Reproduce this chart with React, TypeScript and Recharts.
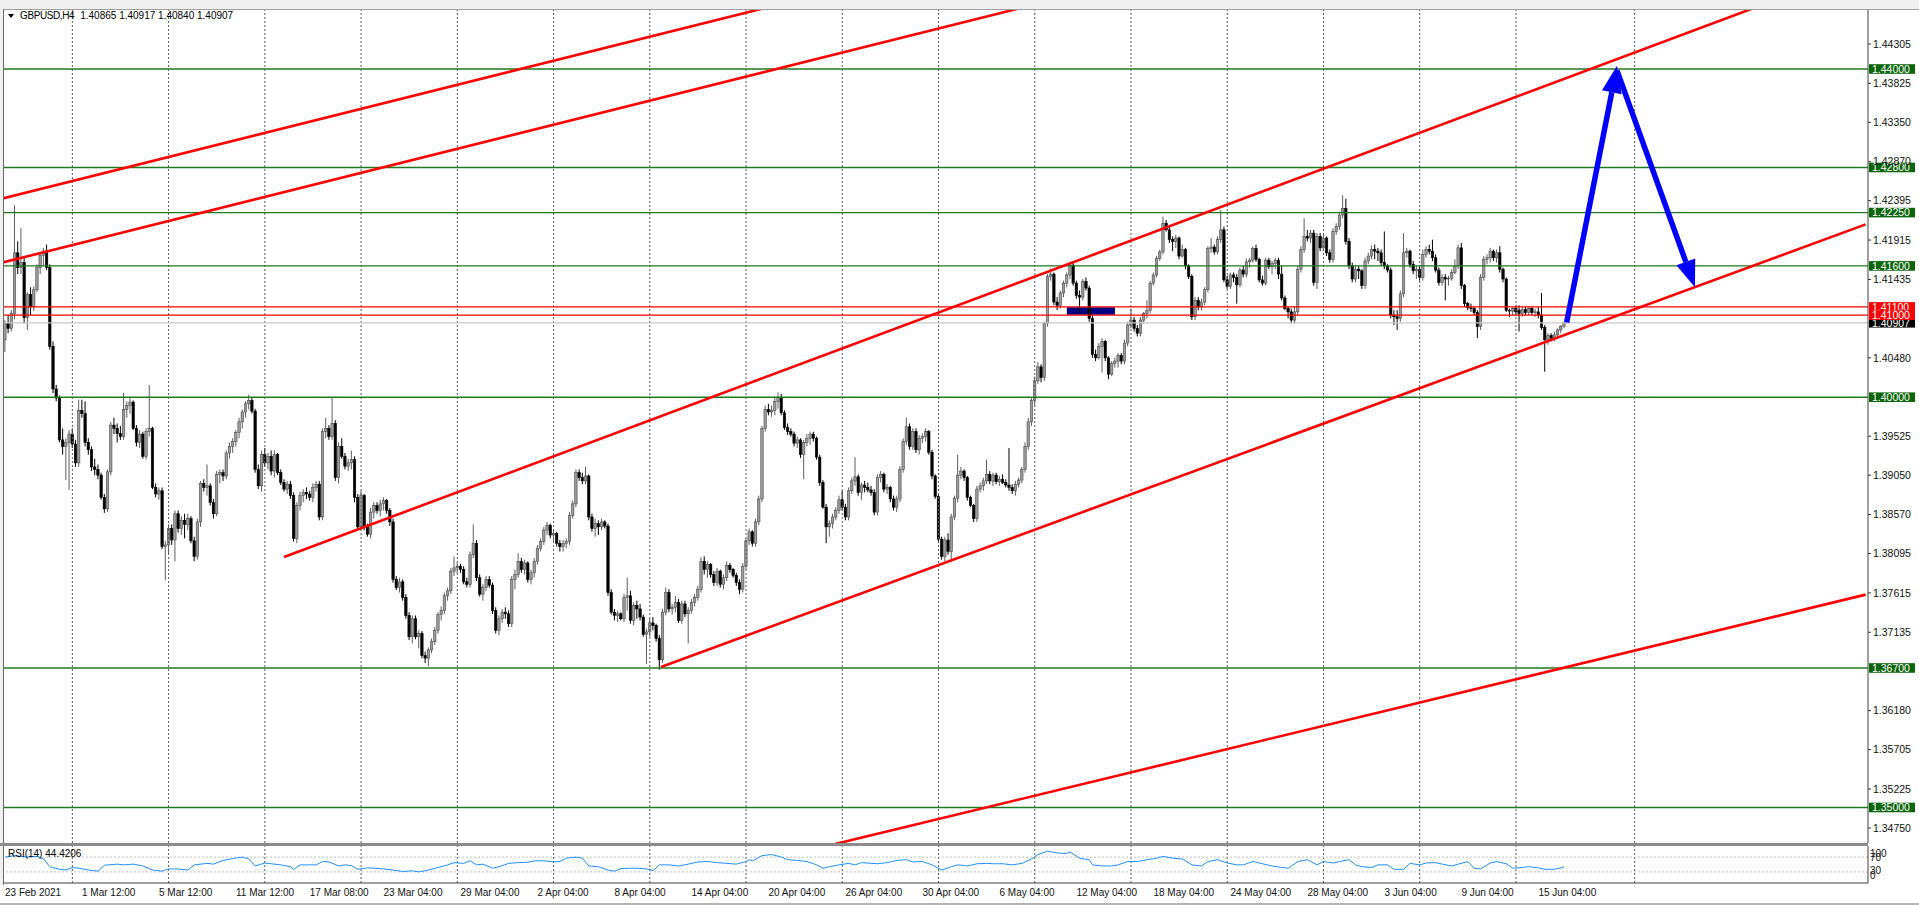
import React from 'react';
import { ComposedChart, Bar, Line, XAxis, YAxis, ReferenceLine, ReferenceArea } from 'recharts';

const FONT = '"Liberation Sans", Arial, sans-serif';

// GBPUSD H4 bars, pips above 1.3000: [open, high, low, close]
const ohlcPips: number[][] = [
  [1070,1094,1055,1090],[1090,1100,1078,1084],[1084,1106,1080,1102],[1102,1234,1095,1176],[1176,1190,1150,1158],
  [1158,1206,1150,1164],[1164,1170,1090,1097],[1097,1128,1082,1125],[1125,1134,1100,1110],[1110,1135,1105,1131],
  [1131,1162,1128,1158],[1158,1176,1150,1173],[1173,1182,1160,1178],[1178,1186,1155,1158],[1158,1162,1058,1062],
  [1062,1068,1005,1010],[1010,1015,995,999],[999,1002,945,948],[948,962,930,940],[940,950,899,945],
  [945,960,887,955],[955,962,938,943],[943,948,915,920],[920,997,915,984],[984,997,975,980],
  [980,995,940,945],[945,950,930,936],[936,940,910,915],[915,925,905,912],[912,918,900,905],
  [905,908,875,878],[878,882,859,864],[864,912,860,909],[909,970,905,966],[966,975,955,962],
  [962,968,945,956],[956,965,948,952],[952,1005,948,985],[985,995,975,990],[990,1000,980,994],
  [994,996,960,962],[962,966,940,945],[945,960,938,955],[955,958,925,928],[928,962,924,958],
  [958,1015,952,962],[962,964,888,890],[890,895,878,882],[882,890,875,886],[886,890,815,818],
  [818,825,777,820],[820,845,810,840],[840,845,820,826],[826,862,800,858],[858,862,835,840],
  [840,855,832,850],[850,858,828,845],[845,858,838,852],[852,855,822,825],[825,830,800,806],
  [806,852,802,848],[848,898,842,895],[895,900,885,890],[890,918,880,892],[892,895,868,872],
  [872,876,852,858],[858,910,855,906],[906,912,895,908],[908,912,898,904],[904,935,900,932],
  [932,945,925,940],[940,950,932,946],[946,960,940,957],[957,975,950,970],[970,985,962,982],
  [982,995,975,992],[992,1003,985,996],[996,1000,980,983],[983,986,908,912],[912,918,888,892],
  [892,935,885,930],[930,938,915,920],[920,932,912,928],[928,935,905,910],[910,935,902,930],
  [930,932,905,908],[908,912,893,896],[896,900,885,888],[888,898,882,894],[894,898,876,880],
  [880,884,824,828],[828,872,822,868],[868,885,862,880],[880,888,872,884],[884,890,876,882],
  [882,886,874,878],[878,895,872,890],[890,898,885,894],[894,898,850,854],[854,962,850,958],
  [958,975,950,962],[962,966,948,952],[952,999,948,968],[968,972,898,902],[902,945,895,940],
  [940,950,925,928],[928,932,912,916],[916,925,910,920],[920,935,912,924],[924,928,872,878],
  [878,882,838,842],[842,886,838,880],[880,882,838,842],[842,846,830,833],[833,865,828,860],
  [860,872,852,868],[868,872,858,862],[862,875,855,870],[870,878,862,874],[874,876,858,862],
  [862,865,843,848],[848,852,774,778],[778,782,765,768],[768,780,762,775],[775,778,752,756],
  [756,760,730,734],[734,738,704,708],[708,734,700,730],[730,734,705,708],[708,716,694,712],
  [712,715,682,685],[685,690,676,682],[682,695,672,692],[692,706,688,702],[702,720,698,716],
  [716,738,712,735],[735,745,728,740],[740,762,736,758],[758,768,752,764],[764,792,760,788],
  [788,806,782,792],[792,798,785,794],[794,797,786,790],[790,794,772,775],[775,780,768,772],
  [772,812,768,808],[808,845,804,822],[822,826,776,780],[780,784,757,760],[760,772,752,768],
  [768,782,764,778],[778,782,768,771],[771,774,736,740],[740,744,712,716],[716,734,710,730],
  [730,742,725,738],[738,744,730,736],[736,740,720,724],[724,782,720,778],[778,790,766,784],
  [784,810,780,800],[800,804,786,790],[790,802,784,798],[798,800,774,778],[778,790,772,786],
  [786,804,780,800],[800,820,796,816],[816,828,812,824],[824,842,820,838],[838,848,832,844],
  [844,846,828,832],[832,838,824,834],[834,836,818,822],[822,826,812,818],[818,826,812,822],
  [822,828,816,824],[824,860,820,856],[856,874,852,870],[870,912,866,908],[908,912,898,902],
  [902,908,894,898],[898,915,894,904],[904,906,850,854],[854,858,836,840],[840,852,830,846],
  [846,850,832,842],[842,852,838,848],[848,850,840,843],[843,846,758,762],[762,766,735,738],
  [738,742,728,734],[734,740,726,736],[736,738,728,730],[730,760,726,756],[756,780,740,758],
  [758,764,724,728],[728,750,722,746],[746,752,730,742],[742,748,728,732],[732,735,708,711],
  [711,718,675,714],[714,730,708,725],[725,732,716,722],[722,724,702,706],[706,710,668,680],
  [680,742,676,738],[738,768,734,762],[762,766,738,742],[742,748,735,744],[744,758,738,750],
  [750,754,725,728],[728,752,724,748],[748,752,732,736],[736,744,700,740],[740,754,736,750],
  [750,760,745,756],[756,770,752,766],[766,805,762,800],[800,806,784,790],[790,800,780,796],
  [796,798,780,784],[784,788,770,774],[774,792,770,788],[788,790,768,772],[772,784,766,780],
  [780,800,776,795],[795,798,786,790],[790,792,780,783],[783,786,770,774],[774,778,760,766],
  [766,798,762,794],[794,828,790,825],[825,840,820,836],[836,838,818,822],[822,852,818,848],
  [848,880,844,876],[876,965,872,962],[962,990,958,985],[985,992,978,982],[982,990,976,984],
  [984,1000,978,995],[995,1006,986,1000],[1000,1004,978,981],[981,984,960,963],[963,968,954,958],
  [958,962,952,955],[955,958,940,944],[944,952,938,948],[948,950,926,930],[930,948,900,945],
  [945,955,940,950],[950,958,942,955],[955,958,946,950],[950,952,924,927],[927,930,892,896],
  [896,899,864,866],[866,870,822,842],[842,850,830,846],[846,858,840,854],[854,866,850,862],
  [862,880,858,875],[875,886,862,866],[866,870,850,854],[854,890,850,886],[886,902,882,898],
  [898,927,892,903],[903,906,880,884],[884,896,875,893],[893,898,884,890],[890,896,884,887],
  [887,892,880,884],[884,888,856,860],[860,906,856,902],[902,910,896,906],[906,908,884,888],
  [888,894,882,890],[890,892,872,876],[876,880,862,866],[866,880,860,876],[876,916,872,912],
  [912,950,908,946],[946,975,942,964],[964,968,936,940],[940,962,936,958],[958,962,932,936],
  [936,954,930,950],[950,956,944,952],[952,962,946,958],[958,960,930,933],[933,936,900,904],
  [904,906,876,879],[879,882,824,827],[827,830,802,806],[806,830,800,826],[826,834,808,812],
  [812,858,799,854],[854,880,850,877],[877,930,872,905],[905,915,900,910],[910,912,898,902],
  [902,904,874,878],[878,880,866,868],[868,870,848,852],[852,892,848,888],[888,896,884,892],
  [892,902,886,898],[898,924,894,906],[906,910,894,898],[898,908,892,905],[905,908,894,897],
  [897,904,892,900],[900,906,894,896],[896,900,890,893],[893,938,886,890],[890,894,882,886],
  [886,898,880,894],[894,902,890,899],
  [899,915,895,912],[912,945,908,940],[940,975,936,970],[970,1000,965,996],[996,1025,990,1020],
  [1020,1043,1016,1037],[1037,1040,1018,1024],[1024,1092,1020,1090],[1090,1150,1086,1147],[1147,1157,1142,1150],
  [1150,1152,1112,1116],[1116,1122,1106,1112],[1112,1130,1108,1127],[1127,1142,1122,1139],[1139,1152,1134,1149],
  [1149,1165,1144,1161],[1161,1165,1136,1139],[1139,1142,1120,1124],[1124,1130,1102,1122],[1122,1144,1118,1141],
  [1141,1146,1130,1133],[1133,1136,1092,1096],[1096,1100,1048,1052],[1052,1058,1044,1048],[1048,1066,1046,1062],
  [1062,1072,1030,1068],[1068,1070,1044,1048],[1048,1050,1022,1028],[1028,1044,1026,1041],[1041,1048,1036,1044],
  [1044,1054,1036,1051],[1051,1054,1040,1044],[1044,1070,1040,1066],[1066,1092,1062,1088],[1088,1108,1084,1094],
  [1094,1098,1080,1084],[1084,1088,1074,1078],[1078,1098,1074,1094],[1094,1104,1090,1102],[1102,1118,1096,1106],
  [1106,1142,1102,1139],[1139,1152,1136,1149],[1149,1172,1146,1169],[1169,1180,1166,1177],[1177,1220,1174,1212],
  [1212,1216,1202,1204],[1204,1208,1188,1192],[1192,1196,1178,1190],[1190,1198,1182,1194],[1194,1196,1168,1172],
  [1172,1186,1170,1180],[1180,1182,1156,1160],[1160,1162,1144,1147],[1147,1150,1094,1098],[1098,1122,1094,1118],
  [1118,1122,1106,1110],[1110,1120,1106,1116],[1116,1134,1112,1131],[1131,1184,1128,1181],[1181,1194,1176,1183],
  [1183,1186,1174,1177],[1177,1196,1174,1192],[1192,1228,1188,1204],[1204,1208,1140,1143],[1143,1148,1132,1135],
  [1135,1152,1132,1149],[1149,1152,1140,1146],[1146,1150,1114,1137],[1137,1158,1134,1155],[1155,1160,1146,1150],
  [1150,1169,1146,1165],[1165,1170,1158,1167],[1167,1184,1164,1181],[1181,1186,1165,1168],[1168,1170,1140,1143],
  [1143,1148,1136,1139],[1139,1170,1136,1167],[1167,1170,1156,1159],[1159,1166,1150,1163],[1163,1170,1156,1167],
  [1167,1170,1144,1150],[1150,1160,1118,1121],
  [1121,1124,1106,1108],[1108,1110,1096,1104],[1104,1108,1090,1094],[1094,1110,1090,1104],[1104,1160,1100,1156],
  [1156,1184,1152,1180],[1180,1218,1176,1196],[1196,1204,1190,1194],[1194,1204,1188,1200],[1200,1204,1136,1140],
  [1140,1200,1132,1196],[1196,1200,1178,1182],[1182,1198,1178,1194],[1194,1196,1172,1176],[1176,1180,1164,1168],
  [1168,1206,1164,1202],[1202,1212,1198,1208],[1208,1226,1204,1222],[1222,1246,1218,1230],[1230,1242,1186,1190],
  [1190,1194,1156,1160],[1160,1164,1140,1144],[1144,1160,1140,1156],[1156,1160,1144,1154],[1154,1156,1132,1136],
  [1136,1170,1132,1166],[1166,1176,1162,1172],[1172,1185,1168,1180],[1180,1186,1168,1178],[1178,1182,1166,1176],
  [1176,1180,1160,1164],[1164,1202,1156,1160],[1160,1162,1152,1155],[1155,1158,1096,1100],[1100,1106,1088,1098],
  [1098,1106,1082,1096],[1096,1130,1092,1126],[1126,1200,1122,1176],[1176,1182,1170,1178],[1178,1180,1158,1162],
  [1162,1166,1150,1154],[1154,1160,1144,1156],[1156,1160,1142,1146],[1146,1180,1142,1174],[1174,1184,1170,1180],
  [1180,1186,1174,1178],[1178,1192,1166,1170],[1170,1174,1152,1155],[1155,1158,1136,1140],[1140,1150,1136,1146],
  [1146,1150,1118,1144],[1144,1148,1136,1145],[1145,1156,1142,1152],[1152,1168,1150,1160],[1160,1186,1156,1182],
  [1182,1188,1132,1136],[1136,1138,1110,1114],[1114,1116,1106,1109],[1109,1114,1104,1108],[1108,1110,1100,1103],
  [1103,1106,1072,1086],[1086,1150,1082,1146],[1146,1172,1142,1168],[1168,1174,1162,1170],[1170,1182,1164,1178],
  [1178,1180,1166,1170],[1170,1180,1164,1176],[1176,1184,1152,1156],[1156,1158,1140,1144],[1144,1146,1104,1106],
  [1106,1108,1098,1105],[1105,1110,1100,1108],[1108,1112,1100,1104],[1106,1112,1080,1102],[1102,1110,1098,1107],
  [1107,1110,1100,1103],[1103,1110,1100,1108],[1108,1110,1100,1103],[1103,1108,1098,1104],[1104,1110,1096,1100],
  [1100,1127,1082,1085],[1085,1088,1031,1070],[1070,1078,1064,1075],[1075,1078,1068,1072],[1072,1080,1068,1076],
  [1076,1084,1072,1082],[1082,1088,1078,1086],[1086.5,1091.7,1084,1090.7],
];
const PIP_BASE = 1.3;

const symbolName = 'GBPUSD,H4';
const priceTicks = [1.44305, 1.43825, 1.4335, 1.4287, 1.42395, 1.41915, 1.41435, 1.4048, 1.39525, 1.3905,
  1.3857, 1.38095, 1.37615, 1.37135, 1.3618, 1.35705, 1.35225, 1.3475];
const greenLevels = [1.44, 1.428, 1.4225, 1.416, 1.4, 1.367, 1.35];
const redLevels = [1.411, 1.41];
const lastPrice = 1.40907;

const gridBars = [21, 51, 81, 111, 141, 171, 201, 231, 261, 291, 321, 351, 381, 411, 441, 471, 508];
const timeLabels: [number, string][] = [
  [0, '23 Feb 2021'], [24, '1 Mar 12:00'], [48, '5 Mar 12:00'], [72, '11 Mar 12:00'], [95, '17 Mar 08:00'],
  [118, '23 Mar 04:00'], [142, '29 Mar 04:00'], [166, '2 Apr 04:00'], [190, '8 Apr 04:00'], [214, '14 Apr 04:00'],
  [238, '20 Apr 04:00'], [262, '26 Apr 04:00'], [286, '30 Apr 04:00'], [310, '6 May 04:00'], [334, '12 May 04:00'],
  [358, '18 May 04:00'], [382, '24 May 04:00'], [406, '28 May 04:00'], [430, '3 Jun 04:00'], [454, '9 Jun 04:00'],
  [478, '15 Jun 04:00'],
];

// drawn objects, [bar1, price1, bar2, price2]
const trendLines = [
  [-20, 1.42233, 320, 1.45556],
  [-20, 1.41453, 400, 1.45558],
  [87, 1.38053, 580, 1.45252],
  [204.5, 1.36712, 580, 1.42106],
  [216.6, 1.34156, 580, 1.37594],
];
const forecastArrows = [
  [486.8, 1.4091, 502.5, 1.4404],
  [502.5, 1.4398, 526.8, 1.4134],
];
const zoneBox = [331, 346, 1.41005, 1.41095];

const rsiLabel = 'RSI(14) 44.4206';
const rsiPoints: [number, number][] = [
  [0,70],[3,74],[7,70],[10,72],[12,65],[14,44],[17,37],[19,35],[21,42],[23,40],[26,35],[29,32],[31,48],[35,51],
  [37,49],[40,51],[43,46],[46,35],[49,32],[51,38],[54,38],[57,35],[59,49],[63,53],[65,51],[68,61],[71,66],[74,70],
  [76,65],[78,46],[81,54],[83,52],[86,49],[89,44],[90,37],[92,49],[95,49],[97,49],[99,58],[101,57],[104,46],[106,49],
  [108,47],[110,37],[113,41],[115,40],[118,38],[121,35],[124,31],[127,33],[129,30],[132,35],[135,42],[138,49],
  [140,55],[143,53],[145,60],[147,49],[149,51],[152,40],[154,44],[157,53],[160,55],[163,56],[165,60],[168,60],
  [171,57],[173,58],[175,67],[178,70],[180,67],[182,46],[185,44],[188,35],[190,32],[192,39],[195,40],[197,40],
  [200,38],[202,33],[204,49],[207,49],[210,46],[213,51],[216,57],[219,58],[222,55],[225,53],[228,51],[231,58],
  [232,63],[233,60],[236,74],[239,77],[242,70],[244,63],[247,61],[250,58],[253,49],[255,40],[257,44],[260,49],
  [263,53],[265,49],[267,55],[270,53],[272,52],[275,55],[278,61],[281,63],[283,57],[286,58],[289,49],[292,35],
  [295,44],[297,49],[300,46],[303,52],[306,53],[308,52],[311,52],[314,49],[317,53],[320,65],[322,77],[325,86],
  [328,81],[331,80],[332,84],[335,67],[338,63],[339,49],[342,46],[345,46],[347,49],[350,58],[353,58],[356,63],
  [359,67],[361,72],[364,67],[367,65],[370,49],[373,46],[375,58],[378,63],[381,54],[384,49],[386,49],[389,58],
  [392,52],[395,46],[398,42],[400,40],[403,58],[406,63],[409,49],[411,58],[414,54],[416,58],[419,63],[421,49],
  [423,44],[426,42],[428,49],[431,49],[433,37],[436,37],[438,53],[441,49],[443,54],[446,55],[448,51],[451,46],
  [453,51],[456,58],[458,40],[460,38],[463,54],[465,58],[468,52],[470,40],[473,42],[475,44],[478,41],[480,37],
  [483,37],[485,41],[486,44],
];

const X_DOMAIN: [number, number] = [-0.31, 580.74];
const PRICE_DOMAIN: [number, number] = [1.34567, 1.44719];

const toPrice = (p: number) => PIP_BASE + p / 10000;
const candles = ohlcPips.map(([o, h, l, c], i) => ({
  i, o: toPrice(o), h: toPrice(h), l: toPrice(l), c: toPrice(c), range: [toPrice(l), toPrice(h)],
}));
const rsiData = rsiPoints.map(([i, v]) => ({ i, v }));
const lastBar = candles[candles.length - 1];

const Candle = (props: any) => {
  const { x, y, width, height, payload } = props;
  if (!payload || x == null) return null;
  const { o, h, l, c } = payload;
  const top = Math.min(y, y + height);
  const bot = Math.max(y, y + height);
  const k = h === l ? 0 : (bot - top) / (h - l);
  const py = (p: number) => top + (h - p) * k;
  const cx = x + width / 2;
  const up = c >= o;
  const bTop = py(Math.max(o, c));
  const bh = Math.max(py(Math.min(o, c)) - bTop, 0.8);
  return (
    <g>
      <line x1={cx} x2={cx} y1={top} y2={bot} stroke={up ? '#5e5e5e' : '#000'} strokeWidth={1} />
      <rect x={cx - 1.2} y={bTop} width={2.4} height={bh} fill={up ? '#9c9c9c' : '#000'}
        stroke={up ? '#4c4c4c' : '#000'} strokeWidth={0.6} />
    </g>
  );
};

const PriceTag = ({ viewBox, text, bg }: any) => {
  if (!viewBox) return null;
  const x = viewBox.x + viewBox.width + 1;
  const y = viewBox.y;
  return (
    <g>
      <rect x={x} y={y - 4.8} width={46} height={9.6} fill={bg} />
      <text x={x + 3} y={y + 3.8} fontSize={10.5} fill="#fff" fontFamily={FONT}>{text}</text>
    </g>
  );
};

const PriceTick = ({ x, y, payload }: any) => (
  <g>
    <line x1={x} x2={x + 3} y1={y} y2={y} stroke="#333" />
    <text x={x + 5} y={y + 3.7} fontSize={10.5} fill="#111" fontFamily={FONT}>
      {Number(payload.value).toFixed(5)}
    </text>
  </g>
);

const RsiTick = ({ x, y, payload }: any) => {
  const v = payload.value;
  const dy = v === 100 ? 10.5 : v === 0 ? -4.5 : v === 30 ? 2.5 : 3.5;
  return (
    <text x={x + 2} y={y + dy} fontSize={10} fill="#111" fontFamily={FONT}>{v}</text>
  );
};

const TimeTick = ({ x, y, payload }: any) => {
  const t = timeLabels.find((d) => d[0] === payload.value);
  return (
    <text x={x} y={y + 13} fontSize={10} fill="#111" fontFamily={FONT}>{t ? t[1] : ''}</text>
  );
};

const ArrowShape = (props: any) => {
  const { x1, y1, x2, y2 } = props;
  const ang = Math.atan2(y2 - y1, x2 - x1);
  const len = 27;
  const half = 10;
  const bx = x2 - len * Math.cos(ang);
  const by = y2 - len * Math.sin(ang);
  const px = -Math.sin(ang) * half;
  const py = Math.cos(ang) * half;
  return (
    <g>
      <line x1={x1} y1={y1} x2={bx} y2={by} stroke="#0000ff" strokeWidth={5.5} />
      <polygon points={`${x2},${y2} ${bx + px},${by + py} ${bx - px},${by - py}`} fill="#0000ff" />
    </g>
  );
};

export default function App() {
  return (
    <div style={{ position: 'absolute', left: 0, top: 0, width: 1919, height: 905, background: '#fff', overflow: 'hidden', fontFamily: FONT }}>
      <div style={{ position: 'absolute', left: 0, top: 0, width: 1919, height: 9, background: '#f0f0f0', borderBottom: '1px solid #a0a0a0' }} />

      <div style={{ position: 'absolute', left: 0, top: 0 }}>
        <ComposedChart width={1919} height={845} data={candles} margin={{ top: 10, right: 0, bottom: 2, left: 4 }}>
          <XAxis dataKey="i" type="number" domain={X_DOMAIN} allowDataOverflow hide />
          <YAxis orientation="right" width={51} type="number" domain={PRICE_DOMAIN} allowDataOverflow
            ticks={priceTicks} interval={0} tick={<PriceTick />} tickLine={false} tickSize={0} tickMargin={0}
            axisLine={{ stroke: '#404040' }} />
          {gridBars.map((b) => (
            <ReferenceLine key={'g' + b} x={b} stroke="#5a5a5a" strokeDasharray="2 2" strokeWidth={1} />
          ))}
          <ReferenceLine y={lastPrice} stroke="#c8c8c8" strokeWidth={1.2}
            label={<PriceTag text={lastPrice.toFixed(5)} bg="#000" />} />
          {greenLevels.map((v) => (
            <ReferenceLine key={'l' + v} y={v} stroke="#1f7a1f" strokeWidth={1.4}
              label={<PriceTag text={v.toFixed(5)} bg="#0b650b" />} />
          ))}
          {redLevels.map((v) => (
            <ReferenceLine key={'r' + v} y={v} stroke="#ff0000" strokeWidth={1.2}
              label={<PriceTag text={v.toFixed(5)} bg="#ff0000" />} />
          ))}
          <Bar dataKey="range" barSize={3} shape={<Candle />} isAnimationActive={false} />
          <ReferenceArea x1={zoneBox[0]} x2={zoneBox[1]} y1={zoneBox[2]} y2={zoneBox[3]} fill="#000080" fillOpacity={1} stroke="none" />
          {trendLines.map((t, k) => (
            <ReferenceLine key={'t' + k} segment={[{ x: t[0], y: t[1] }, { x: t[2], y: t[3] }]}
              stroke="#ff0000" strokeWidth={2.6} ifOverflow="hidden" />
          ))}
          {forecastArrows.map((a, k) => (
            <ReferenceLine key={'a' + k} segment={[{ x: a[0], y: a[1] }, { x: a[2], y: a[3] }]}
              ifOverflow="visible" shape={(p: any) => <ArrowShape {...p} />} />
          ))}
        </ComposedChart>
      </div>

      <div style={{ position: 'absolute', left: 0, top: 9, width: 3, height: 876, background: '#f0f0f0', borderRight: '1px solid #6a6a6a' }} />
      <div style={{ position: 'absolute', left: 0, top: 843, width: 1868, height: 3, background: '#8c8c8c' }} />

      <div style={{ position: 'absolute', left: 8, top: 10, fontSize: 10, color: '#000', whiteSpace: 'pre', lineHeight: '12px', display: 'flex', alignItems: 'center' }}>
        <svg width={6} height={5} style={{ marginRight: 6 }}>
          <polygon points="0,0 6,0 3,4" fill="#000" />
        </svg>
        <span style={{ letterSpacing: -0.4 }}>{symbolName}</span>
        <span style={{ marginLeft: 6 }}>
          {[lastBar.o, lastBar.h, lastBar.l, lastBar.c].map((v) => v.toFixed(5)).join(' ')}
        </span>
      </div>

      <div style={{ position: 'absolute', left: 0, top: 846 }}>
        <ComposedChart width={1919} height={59} data={rsiData} margin={{ top: 0, right: 0, bottom: 0, left: 4 }}>
          <XAxis dataKey="i" type="number" domain={X_DOMAIN} allowDataOverflow height={22}
            ticks={timeLabels.map((t) => t[0])} interval={0} tick={<TimeTick />} tickLine={false}
            tickSize={0} tickMargin={0} axisLine={{ stroke: '#404040' }} />
          <YAxis orientation="right" width={51} type="number" domain={[0, 100]} ticks={[100, 70, 30, 0]}
            interval={0} tick={<RsiTick />} tickLine={false} tickSize={0} tickMargin={0} axisLine={{ stroke: '#404040' }} />
          {gridBars.map((b) => (
            <ReferenceLine key={'rg' + b} x={b} stroke="#5a5a5a" strokeDasharray="2 2" strokeWidth={1} />
          ))}
          <ReferenceLine y={70} stroke="#c0c0c0" strokeDasharray="2 2" />
          <ReferenceLine y={30} stroke="#c0c0c0" strokeDasharray="2 2" />
          <Line dataKey="v" type="linear" stroke="#1e90ff" strokeWidth={1} dot={false} isAnimationActive={false} />
        </ComposedChart>
      </div>
      <div style={{ position: 'absolute', left: 8, top: 848, fontSize: 10, color: '#000', lineHeight: '12px' }}>{rsiLabel}</div>

      <div style={{ position: 'absolute', left: 0, top: 903, width: 1919, height: 2, background: '#b4b4b4' }} />
    </div>
  );
}
